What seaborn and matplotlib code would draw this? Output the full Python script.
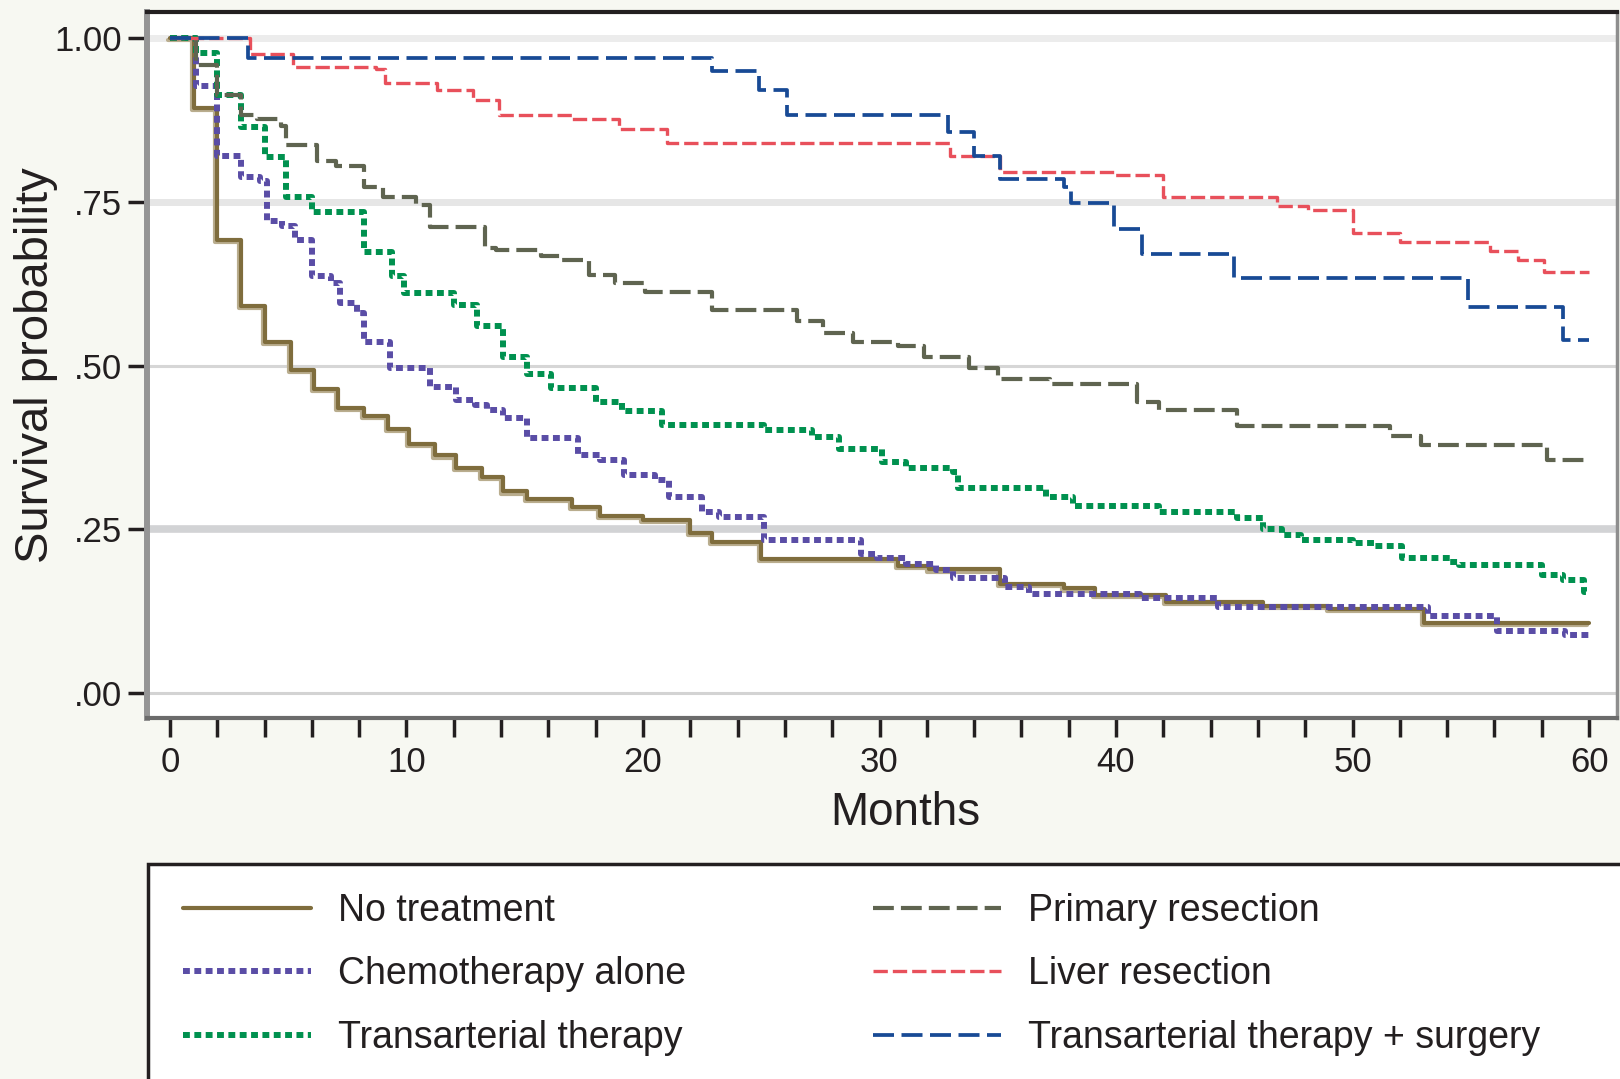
import numpy as np
import pandas as pd
import matplotlib
matplotlib.use("Agg")
import matplotlib.pyplot as plt
import seaborn as sns
from matplotlib.patches import Rectangle
from matplotlib.lines import Line2D
import matplotlib.patheffects as pe

# ---------------- data ----------------
groups = ["No treatment", "Chemotherapy alone", "Transarterial therapy",
          "Primary resection", "Liver resection", "Transarterial therapy + surgery"]

no_tx_t = [0, 1.0, 2.0, 3.0, 4.0, 5.1, 6.1, 7.1, 8.2, 9.2, 10.1, 11.2, 12.1, 13.2, 14.1, 15.1,
           17.0, 18.2, 20.0, 22.0, 22.9, 25.0, 30.8, 32.1, 35.1, 37.8, 39.1, 42.1, 46.2, 49.0, 53.0, 60]
no_tx_s = [1.0, .893, .692, .591, .536, .493, .464, .435, .423, .403, .381, .363, .344, .330, .308, .296,
           .284, .270, .264, .244, .231, .205, .194, .189, .167, .160, .150, .139, .133, .128, .107, .107]

chemo_t = [0, 1.1, 2.0, 3.0, 3.8, 4.1, 4.75, 5.3, 6.0, 6.8, 7.2, 7.9, 8.2, 9.3, 11.0, 12.1, 12.9, 13.4,
           14.1, 15.1, 17.25, 18.2, 19.2, 20.5, 21.1, 22.5, 23.2, 25.1, 29.2, 29.9, 31.1, 32.4, 33.1,
           35.3, 36.3, 41.0, 44.3, 53.2, 56.1, 59.0, 60]
chemo_s = [1.0, .926, .820, .788, .781, .720, .713, .692, .636, .626, .595, .580, .536, .497, .468, .447,
           .440, .432, .420, .390, .363, .356, .333, .325, .299, .277, .269, .234, .213, .206, .197, .188,
           .175, .162, .152, .145, .131, .118, .095, .089, .089]

tace_t = [0, 1.1, 2.0, 3.0, 4.0, 4.9, 6.0, 8.2, 9.4, 9.9, 12.0, 13.0, 14.1, 15.1, 16.1, 18.0, 19.1,
          20.8, 25.1, 27.15, 28.3, 30.1, 31.1, 33.1, 33.3, 37.05, 38.2, 41.8, 45.1, 46.2, 47.0, 47.8,
          50.0, 50.9, 52.1, 54.1, 54.5, 58.0, 58.9, 59.8, 60]
tace_s = [1.0, .977, .913, .864, .818, .757, .734, .674, .636, .610, .592, .560, .513, .487, .466, .445,
          .430, .410, .401, .391, .372, .353, .343, .338, .313, .300, .286, .277, .268, .251, .241, .234,
          .229, .225, .206, .200, .195, .181, .172, .155, .155]

prim_t = [0, 1.1, 2.0, 3.0, 3.7, 4.7, 4.9, 6.2, 7.0, 8.2, 9.0, 10.4, 11.0, 13.3, 13.8, 15.7, 16.5,
          17.7, 18.8, 20.1, 22.9, 26.5, 27.6, 28.9, 30.8, 31.9, 33.8, 35.0, 37.2, 40.9, 41.8, 45.1,
          51.6, 52.9, 58.2, 60]
prim_s = [1.0, .959, .913, .882, .876, .865, .837, .812, .805, .773, .758, .745, .712, .680, .676, .668,
          .661, .638, .626, .612, .585, .568, .550, .536, .530, .513, .497, .480, .472, .445, .432, .407,
          .393, .379, .356, .356]

liver_t = [0, 3.4, 5.2, 8.7, 9.1, 11.3, 12.8, 13.9, 17.0, 19.0, 21.0, 33.0, 35.1, 39.9, 42.0, 46.8,
           48.1, 50.0, 52.0, 55.8, 57.0, 58.1, 60]
liver_s = [1.0, .975, .956, .952, .932, .920, .905, .882, .877, .861, .840, .820, .796, .791, .758, .744,
           .737, .703, .688, .675, .661, .643, .643]

tsurg_t = [0, 3.3, 22.9, 24.9, 26.1, 32.9, 34.0, 35.1, 37.8, 38.1, 39.9, 41.1, 45.0, 54.9, 58.9, 60]
tsurg_s = [1.0, .969, .949, .920, .883, .857, .820, .785, .773, .748, .709, .671, .633, .590, .539, .539]

y_ticks = [0.0, 0.25, 0.50, 0.75, 1.00]
y_tick_labels = [".00", ".25", ".50", ".75", "1.00"]
x_ticks = [0, 10, 20, 30, 40, 50, 60]

series = {
    groups[0]: (no_tx_t, no_tx_s),
    groups[1]: (chemo_t, chemo_s),
    groups[2]: (tace_t, tace_s),
    groups[3]: (prim_t, prim_s),
    groups[4]: (liver_t, liver_s),
    groups[5]: (tsurg_t, tsurg_s),
}

# ---------------- styles ----------------
styles = {
    groups[0]: dict(color="#7f6d3d", lw=3.0, ls="-"),
    groups[1]: dict(color="#5a4da6", lw=4.3, ls=(0, (1.15, 0.75))),
    groups[2]: dict(color="#00914f", lw=4.3, ls=(0, (1.15, 0.75))),
    groups[3]: dict(color="#5f6450", lw=3.0, ls=(0, (5.0, 1.7))),
    groups[4]: dict(color="#e8505b", lw=2.4, ls=(0, (4.3, 1.5))),
    groups[5]: dict(color="#184a95", lw=2.7, ls=(0, (5.6, 2.0))),
}

sns.set_theme(style="white")
plt.rcParams["font.family"] = ["Liberation Sans", "DejaVu Sans"]
ink = "#231f20"

W, H = 1620, 1079
fig = plt.figure(figsize=(W / 100, H / 100), dpi=100, facecolor="#f7f8f2")
ax = fig.add_axes([147 / W, 1 - 718 / H, (1617 - 147) / W, (718 - 12) / H])
ax.set_facecolor("white")

# horizontal reference lines
grid_w = [2.2, 5.5, 2.2, 5.0, 5.0]
grid_c = ["#d3d3d3", "#d2d3d5", "#d6d6d6", "#e6e6e6", "#ececec"]
for v, w, c in zip(y_ticks, grid_w, grid_c):
    ax.axhline(v, lw=w, color=c, zorder=0.5)

for g in groups:
    t, s = series[g]
    df = pd.DataFrame({"Months": t, "Survival": s})
    st = styles[g]
    sns.lineplot(data=df, x="Months", y="Survival", ax=ax, estimator=None, sort=False,
                 drawstyle="steps-post", color=st["color"], linewidth=st["lw"],
                 linestyle=st["ls"], legend=False, zorder=3)
    if g == groups[0]:
        ax.lines[-1].set_path_effects([
            pe.SimpleLineShadow(offset=(-1.4, -1.6), shadow_color="#b9ad8e", alpha=1.0),
            pe.Normal()])

ax.set_xlim(-0.97, 61.18)
ax.set_ylim(-0.038, 1.0397)

ax.set_yticks(y_ticks)
ax.set_yticklabels(y_tick_labels)
ax.set_xticks(x_ticks)
ax.set_xticks(list(range(0, 61, 2)), minor=True)
ax.tick_params(axis="y", direction="out", length=14, width=2.5, color=ink,
               labelsize=25, labelcolor=ink, pad=4, left=True)
ax.tick_params(axis="x", which="both", direction="out", length=14, width=2.5, color=ink,
               labelsize=25, labelcolor=ink, pad=6, bottom=True)

for side, col, lw in [("top", ink, 3.0), ("left", "#959595", 4.3),
                      ("bottom", "#6b6b6b", 3.0), ("right", "#8e8e8e", 2.5)]:
    ax.spines[side].set_visible(True)
    ax.spines[side].set_color(col)
    ax.spines[side].set_linewidth(lw)

ax.set_xlabel("Months", fontsize=33, color=ink, va="center")
ax.xaxis.set_label_coords((905 - 147) / 1470, (718 - 813) / 706)
ax.set_ylabel("Survival probability", fontsize=34, color=ink, va="center")
ax.yaxis.set_label_coords((36 - 147) / 1470, 0.5)

# legend frame (extends past the figure edges, as in the reference)
frame = Rectangle((148 / W, -0.2), 1.0, 0.2 + (1 - 864 / H), transform=fig.transFigure,
                  facecolor="white", edgecolor=ink, lw=2.5, zorder=1)
fig.add_artist(frame)

def proxy(g):
    st = styles[g]
    return Line2D([], [], color=st["color"], lw=st["lw"], linestyle=st["ls"])

fs = 27.0
leg_kw = dict(loc="upper left", frameon=False, fontsize=fs, handlelength=3.42,
              handletextpad=0.72, borderpad=0, borderaxespad=0, labelspacing=0.73,
              labelcolor=ink)
y_top = 1 - 893 / H
leg1 = fig.legend(handles=[proxy(g) for g in groups[:3]], labels=groups[:3],
                  bbox_to_anchor=(183 / W, y_top), **leg_kw)
leg2 = fig.legend(handles=[proxy(g) for g in groups[3:]], labels=groups[3:],
                  bbox_to_anchor=(873 / W, y_top), **leg_kw)
leg1.set_zorder(5)
leg2.set_zorder(5)

fig.savefig("out.png", dpi=100, facecolor=fig.get_facecolor())
